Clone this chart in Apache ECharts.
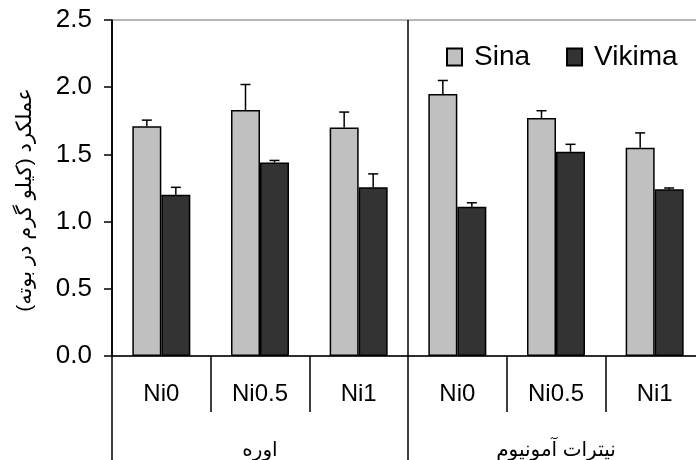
<!DOCTYPE html>
<html>
<head>
<meta charset="utf-8">
<script src="https://cdn.jsdelivr.net/npm/echarts@6/dist/echarts.min.js"></script>
<style>
  html, body { margin: 0; padding: 0; background: #fff; }
  #chart { width: 696px; height: 460px; }
</style>
</head>
<body>
<div id="chart"></div>
<script>
// values
const categories = ["Ni0", "Ni0.5", "Ni1", "Ni0", "Ni0.5", "Ni1"];
const groups = ["اوره", "نیترات آمونیوم"];
const sina = [1.71, 1.83, 1.70, 1.95, 1.77, 1.55];
const sinaErr = [0.045, 0.19, 0.115, 0.10, 0.055, 0.11];
const vikima = [1.20, 1.44, 1.255, 1.11, 1.52, 1.24];
const vikimaErr = [0.055, 0.015, 0.10, 0.03, 0.055, 0.01];
const yName = "عملکرد (کیلو گرم در بوته)";

const font = "'Liberation Sans', Arial, 'DejaVu Sans', sans-serif";
const barWidth = 29;

function errorSeries(values, errs, offset) {
  return {
    type: "custom",
    z: 5,
    silent: true,
    data: values.map((v, i) => [i, v, v + errs[i]]),
    renderItem: function (params, api) {
      const top = api.coord([api.value(0), api.value(1)]);
      const hi = api.coord([api.value(0), api.value(2)]);
      const x = top[0] + offset;
      const cap = 5;
      const style = { stroke: "#000", lineWidth: 1.5 };
      return {
        type: "group",
        children: [
          { type: "line", shape: { x1: x, y1: top[1], x2: x, y2: hi[1] }, style: style },
          { type: "line", shape: { x1: x - cap, y1: hi[1], x2: x + cap, y2: hi[1] }, style: style },
        ],
      };
    },
  };
}

const chart = echarts.init(document.getElementById("chart"));
chart.setOption({
  animation: false,
  textStyle: { fontFamily: font },
  grid: {
    left: 112,
    width: 592, // plot runs past the right edge of the picture
    top: 20,
    bottom: 104,
    outerBoundsMode: "none",
    show: true,
    borderColor: "#a0a0a0",
    borderWidth: 1.5,
  },
  legend: {
    data: ["Sina", "Vikima"],
    left: 441,
    top: 38,
    icon: "rect",
    itemWidth: 15,
    itemHeight: 17,
    itemGap: 36,
    textStyle: { fontSize: 28, color: "#000", fontFamily: font, padding: [0, 0, 0, 7] },
  },
  xAxis: [
    {
      type: "category",
      data: categories,
      position: "bottom",
      axisLine: { lineStyle: { color: "#000", width: 1.5 } },
      axisTick: { show: true, length: 56, interval: 0, lineStyle: { color: "#000", width: 1.5 } },
      axisLabel: { interval: 0, margin: 26, fontSize: 24, color: "#000", fontFamily: font },
    },
    {
      type: "category",
      data: groups,
      position: "bottom",
      axisLine: { show: false },
      axisTick: { show: true, length: 104, lineStyle: { color: "#000", width: 1.5 } },
      axisLabel: { margin: 84, fontSize: 20, color: "#000", fontFamily: font },
      splitLine: { show: true, lineStyle: { color: "#000", width: 1.5 } },
    },
  ],
  yAxis: {
    type: "value",
    min: 0,
    max: 2.5,
    interval: 0.5,
    name: yName,
    nameLocation: "middle",
    nameGap: 76,
    nameTextStyle: { fontSize: 21, color: "#000", fontFamily: font, padding: [0, 24, 0, 0] },
    axisLine: { show: true, lineStyle: { color: "#000", width: 1.5 } },
    axisTick: { show: true, length: 8, lineStyle: { color: "#000", width: 1.5 } },
    axisLabel: {
      margin: 20,
      fontSize: 26,
      color: "#000",
      fontFamily: font,
      formatter: (v) => v.toFixed(1),
    },
    splitLine: { show: false },
  },
  series: [
    {
      name: "Sina",
      type: "bar",
      data: sina,
      barWidth: barWidth,
      barGap: "0%",
      itemStyle: { color: "#c0c0c0", borderColor: "#000", borderWidth: 1.5 },
    },
    {
      name: "Vikima",
      type: "bar",
      data: vikima,
      barWidth: barWidth,
      barGap: "0%",
      itemStyle: { color: "#333333", borderColor: "#000", borderWidth: 1.5 },
    },
    errorSeries(sina, sinaErr, -barWidth / 2),
    errorSeries(vikima, vikimaErr, barWidth / 2),
  ],
});
</script>
</body>
</html>
